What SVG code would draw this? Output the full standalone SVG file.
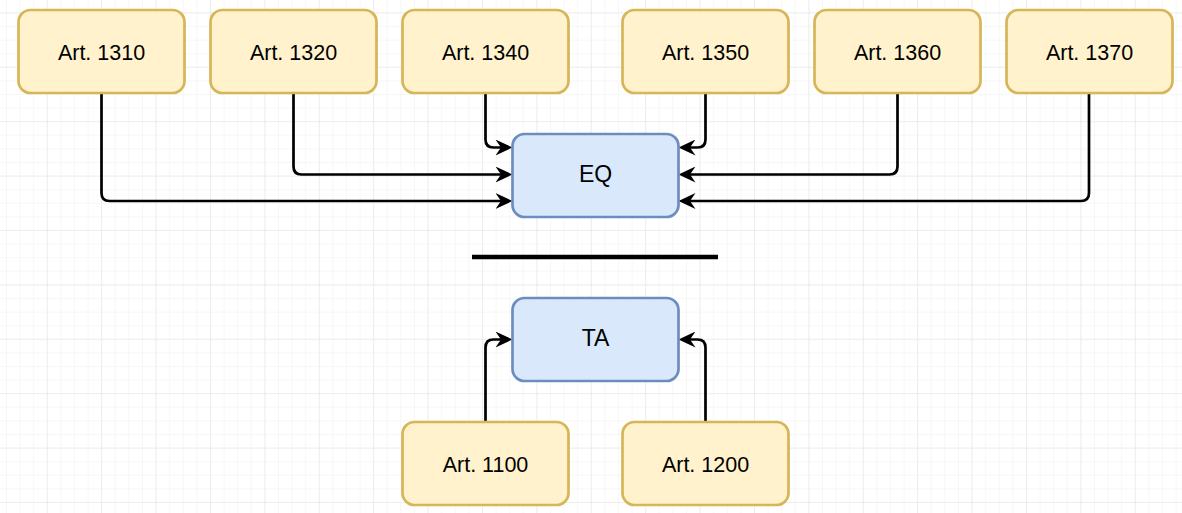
<svg xmlns="http://www.w3.org/2000/svg" width="1182" height="513" viewBox="0 0 1182 513">
<style>
.y{fill:#fff2cc;stroke:#d6b656;stroke-width:2.7}
.b{fill:#dae8fc;stroke:#6c8ebf;stroke-width:2.7}
.t{font-family:"Liberation Sans",Arial,sans-serif;font-size:21.5px;fill:#000;text-anchor:middle}
.c{fill:none;stroke:#000;stroke-width:2.7;marker-end:url(#arr)}
</style>
<defs>
<pattern id="gmin" x="-7.6" y="12.4" width="13.6" height="13.6" patternUnits="userSpaceOnUse">
<path d="M0,0 H13.6 M0,0 V13.6" fill="none" stroke="#f0f0f0" stroke-width="1"/>
</pattern>
<pattern id="gmaj" x="-7.6" y="12.4" width="54.4" height="54.4" patternUnits="userSpaceOnUse">
<path d="M0,0 H54.4 M0,0 V54.4" fill="none" stroke="#e4e4e4" stroke-width="1"/>
</pattern>
<marker id="arr" viewBox="0 0 17 16" refX="5.5" refY="8" markerWidth="17" markerHeight="16" markerUnits="userSpaceOnUse" orient="auto">
<path d="M17,8 L0,0 L5.5,8 L0,16 Z" fill="#000"/>
</marker>
</defs>
<rect width="1182" height="513" fill="#fff"/>
<rect width="1182" height="513" fill="url(#gmin)"/>
<rect width="1182" height="513" fill="url(#gmaj)"/>
<g id="connectors">
<path class="c" d="M101.5,93 V193 Q101.5,201 109.5,201 H501"/>
<path class="c" d="M293.5,93 V166.5 Q293.5,174.5 301.5,174.5 H501"/>
<path class="c" d="M485.5,93 V139.5 Q485.5,147.5 493.5,147.5 H501"/>
<path class="c" d="M705.5,93 V139.5 Q705.5,147.5 697.5,147.5 H690"/>
<path class="c" d="M897.5,93 V166.5 Q897.5,174.5 889.5,174.5 H690"/>
<path class="c" d="M1089,93 V193 Q1089,201 1081,201 H690"/>
<path class="c" d="M485.5,422 V347.5 Q485.5,339.5 493.5,339.5 H501"/>
<path class="c" d="M705.5,422 V347.5 Q705.5,339.5 697.5,339.5 H690"/>
</g>
<g id="separator"><line x1="472" y1="257" x2="718" y2="257" stroke="#000" stroke-width="4.5"/></g>
<g id="art1310"><rect class="y" x="18.5" y="10" width="166" height="83" rx="12"/><text class="t" x="101.5" y="59.5">Art. 1310</text></g>
<g id="art1320"><rect class="y" x="210.5" y="10" width="166" height="83" rx="12"/><text class="t" x="293.5" y="59.5">Art. 1320</text></g>
<g id="art1340"><rect class="y" x="402.5" y="10" width="166" height="83" rx="12"/><text class="t" x="485.5" y="59.5">Art. 1340</text></g>
<g id="art1350"><rect class="y" x="622.5" y="10" width="166" height="83" rx="12"/><text class="t" x="705.5" y="59.5">Art. 1350</text></g>
<g id="art1360"><rect class="y" x="814.5" y="10" width="166" height="83" rx="12"/><text class="t" x="897.5" y="59.5">Art. 1360</text></g>
<g id="art1370"><rect class="y" x="1006.5" y="10" width="166" height="83" rx="12"/><text class="t" x="1089.5" y="59.5">Art. 1370</text></g>
<g id="eq"><rect class="b" x="512.5" y="134" width="166" height="83" rx="12"/><text class="t" x="595.5" y="181.5" style="font-size:23px">EQ</text></g>
<g id="ta"><rect class="b" x="512.5" y="298" width="166" height="83" rx="12"/><text class="t" x="595.5" y="346" style="font-size:23px">TA</text></g>
<g id="art1100"><rect class="y" x="402.5" y="422" width="166" height="83" rx="12"/><text class="t" x="485.5" y="471.5">Art. 1100</text></g>
<g id="art1200"><rect class="y" x="622.5" y="422" width="166" height="83" rx="12"/><text class="t" x="705.5" y="471.5">Art. 1200</text></g>
</svg>
